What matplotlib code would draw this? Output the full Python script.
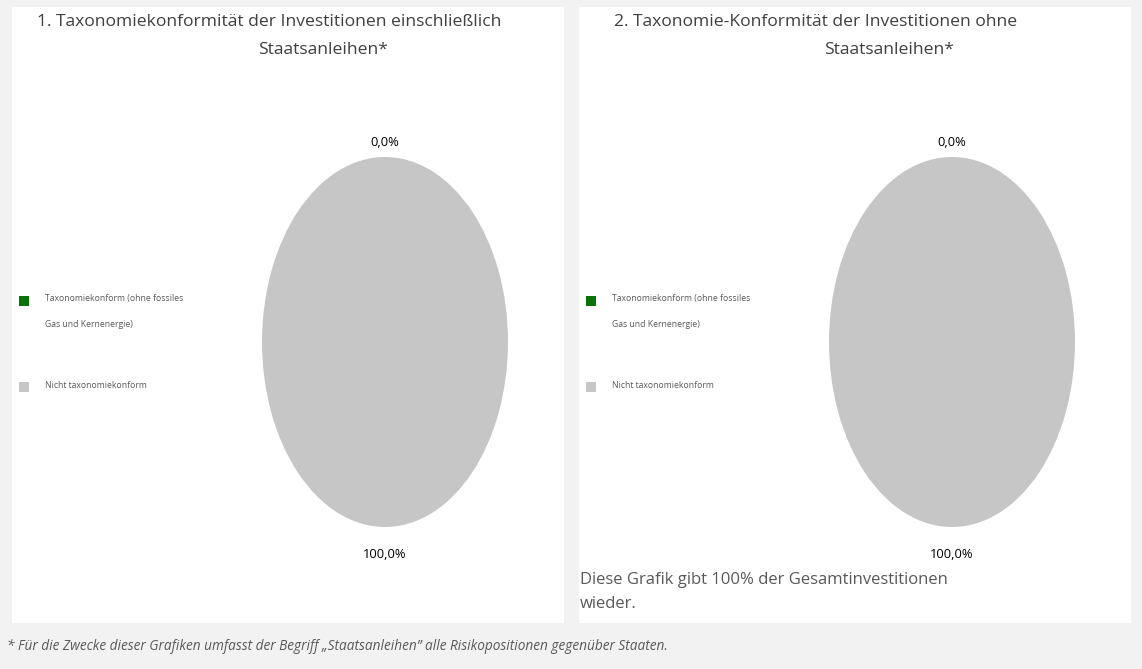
import matplotlib.pyplot as plt
from matplotlib.patches import Rectangle

plt.rcParams['font.family'] = ['Open Sans', 'DejaVu Sans']

W, H = 1142, 669

# data
titles_line1 = ['1. Taxonomiekonformität der Investitionen einschließlich',
                '2. Taxonomie-Konformität der Investitionen ohne']
titles_line2 = ['Staatsanleihen*', 'Staatsanleihen*']
legend_labels = ['Taxonomiekonform (ohne fossiles\nGas und Kernenergie)',
                 'Nicht taxonomiekonform']
values_1 = [0.0, 100.0]
values_2 = [0.0, 100.0]
colors = ['#0b720b', '#c6c6c6']
note = ['Diese Grafik gibt 100% der Gesamtinvestitionen', 'wieder.']
footnote = ('* Für die Zwecke dieser Grafiken umfasst der Begriff \u201eStaatsanleihen\u201d '
            'alle Risikopositionen gegenüber Staaten.')

fig = plt.figure(figsize=(W / 100, H / 100), dpi=100)
fig.patch.set_facecolor('#f2f2f2')


def fx(px):
    return px / W


def fy(py):
    return 1 - py / H


# white panels
for x0, x1 in [(12, 564), (579, 1131)]:
    fig.patches.append(Rectangle((fx(x0), fy(623)), fx(x1 - x0), (623 - 7) / H,
                                 transform=fig.transFigure, facecolor='white',
                                 edgecolor='none', zorder=-5))

panels = [
    dict(vals=values_1, cx=385, tx=37, t2x=323, lx=24),
    dict(vals=values_2, cx=952, tx=614, t2x=889, lx=591),
]

for i, p in enumerate(panels):
    fig.text(fx(p['tx']), fy(22), titles_line1[i], fontsize=12.6, color='#404040',
             va='center', ha='left')
    fig.text(fx(p['t2x']), fy(50), titles_line2[i], fontsize=12.6, color='#404040',
             va='center', ha='center')

    rx, ry, cy = 123, 185, 342
    ax = fig.add_axes([fx(p['cx'] - rx), fy(cy + ry), 2 * rx / W, 2 * ry / H])
    labels = [('%.1f%%' % v).replace('.', ',') for v in p['vals']]
    wedges, texts = ax.pie(p['vals'], colors=colors, labels=labels, startangle=90,
                           counterclock=False, labeldistance=1.1,
                           textprops=dict(fontsize=9.3, color='black'))
    for t in texts:
        t.set_ha('center')
        x, y = t.get_position()
        # top label sits closer to the ellipse than the bottom one
        t.set_y(1.08 if y > 0 else -1.15)
    ax.set_aspect('auto')
    ax.set_xlim(-1, 1)
    ax.set_ylim(-1, 1)
    ax.axis('off')

    # legend
    for lab, col, ly, dy in zip(legend_labels, colors, [301, 387], [-3, -1]):
        fig.patches.append(Rectangle((fx(p['lx'] - 5), fy(ly + 5)), 10 / W, 10 / H,
                                     transform=fig.transFigure, facecolor=col,
                                     edgecolor='none'))
        for j, line in enumerate(lab.split('\n')):
            fig.text(fx(p['lx'] + 21), fy(ly + dy + 26 * j), line, fontsize=6.2,
                     color='#595959', va='center', ha='left')

for j, line in enumerate(note):
    fig.text(fx(580), fy(580 + 24 * j), line, fontsize=12, color='#595959',
             va='center', ha='left')
fig.text(fx(7), fy(646), footnote, fontsize=9.8, color='#595959', style='italic',
         va='center', ha='left')

fig.savefig('out.png', dpi=100, facecolor=fig.get_facecolor())
